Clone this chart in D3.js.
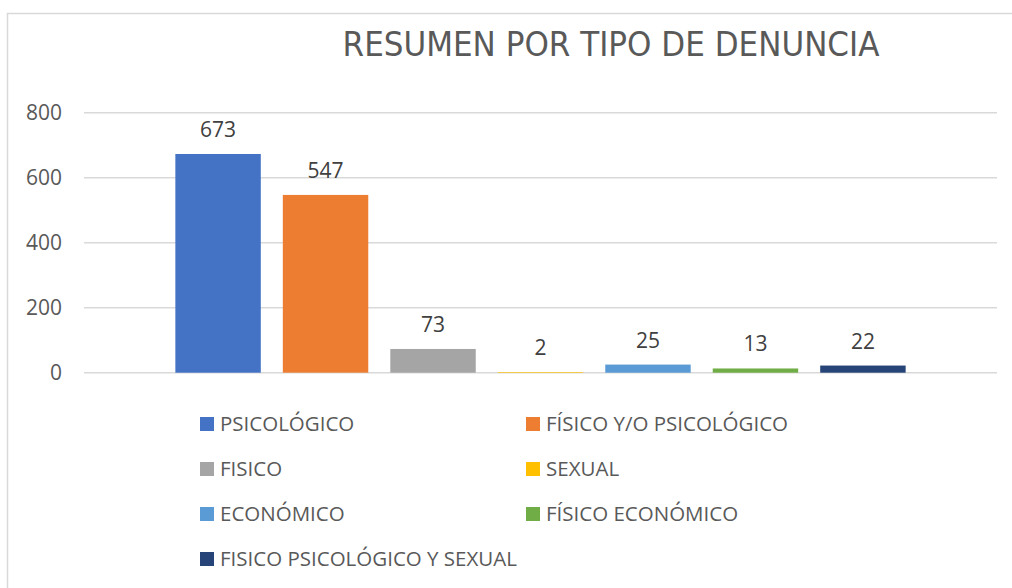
<!DOCTYPE html>
<html>
<head>
<meta charset="utf-8">
<script src="https://cdn.jsdelivr.net/npm/d3@7"></script>
<style>
  body { margin: 0; background: #fff; }
  svg { display: block; }
</style>
</head>
<body>
<svg id="chart"></svg>
<script>
// data
const categories = ["PSICOLÓGICO", "FÍSICO Y/O PSICOLÓGICO", "FISICO", "SEXUAL", "ECONÓMICO", "FÍSICO ECONÓMICO", "FISICO PSICOLÓGICO Y SEXUAL"];
const values = [673, 547, 73, 2, 25, 13, 22];
const colors = ["#4472C4", "#ED7D31", "#A5A5A5", "#FFC000", "#5B9BD5", "#70AD47", "#264478"];
const yTicks = [0, 200, 400, 600, 800];

const width = 1012;
const height = 588;

const svg = d3.select("#chart")
  .attr("width", width)
  .attr("height", height);

// chart frame (runs off the right and bottom edge)
svg.append("rect")
  .attr("x", 7.5).attr("y", 13.5)
  .attr("width", 1020).attr("height", 600)
  .attr("fill", "#fff")
  .attr("stroke", "#D9D9D9")
  .attr("stroke-width", 1.5);

// title
svg.append("text")
  .attr("x", 611).attr("y", 56)
  .attr("text-anchor", "middle")
  .attr("font-family", "'Liberation Sans Narrow', 'DejaVu Sans Condensed', sans-serif")
  .attr("font-size", 34.5)
  .attr("fill", "#595959")
  .text("RESUMEN POR TIPO DE DENUNCIA");

// scales
const x = d3.scaleBand()
  .domain(categories)
  .range([84, 997])
  .paddingInner(0.205)
  .paddingOuter(0.85);

const y = d3.scaleLinear()
  .domain([0, 800])
  .range([372.7, 112.7]);

// gridlines
svg.append("g")
  .selectAll("line")
  .data(yTicks)
  .join("line")
  .attr("x1", 84).attr("x2", 997)
  .attr("y1", d => y(d)).attr("y2", d => y(d))
  .attr("stroke", "#D9D9D9")
  .attr("stroke-width", 1.5);

// y axis labels
svg.append("g")
  .selectAll("text")
  .data(yTicks)
  .join("text")
  .attr("x", 62)
  .attr("y", d => y(d))
  .attr("dy", "0.36em")
  .attr("text-anchor", "end")
  .attr("font-family", "'Open Sans', sans-serif")
  .attr("font-size", 21)
  .attr("fill", "#595959")
  .text(d => d);

// bars
svg.append("g")
  .selectAll("rect")
  .data(values)
  .join("rect")
  .attr("x", (d, i) => x(categories[i]))
  .attr("y", d => y(d))
  .attr("width", x.bandwidth())
  .attr("height", d => y(0) - y(d))
  .attr("fill", (d, i) => colors[i]);

// value labels
svg.append("g")
  .selectAll("text")
  .data(values)
  .join("text")
  .attr("x", (d, i) => x(categories[i]) + x.bandwidth() / 2)
  .attr("y", d => y(d) - 17)
  .attr("text-anchor", "middle")
  .attr("font-family", "'Open Sans', sans-serif")
  .attr("font-size", 21)
  .attr("fill", "#404040")
  .text(d => d);

// legend, two columns
const legend = svg.append("g")
  .selectAll("g")
  .data(categories)
  .join("g")
  .attr("transform", (d, i) => `translate(${i % 2 === 0 ? 200 : 526},${424 + Math.floor(i / 2) * 45})`);

legend.append("rect")
  .attr("x", 0).attr("y", -7)
  .attr("width", 14).attr("height", 14)
  .attr("fill", (d, i) => colors[i]);

legend.append("text")
  .attr("x", 20)
  .attr("dy", "0.36em")
  .attr("font-family", "'Open Sans', sans-serif")
  .attr("font-size", 20.5)
  .attr("fill", "#595959")
  .text(d => d);
</script>
</body>
</html>
